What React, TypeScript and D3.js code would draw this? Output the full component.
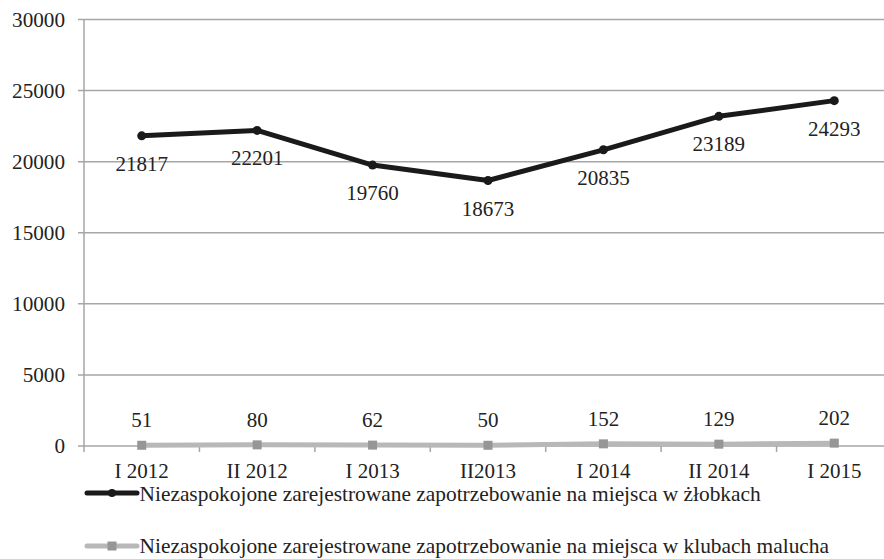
import React from "react";
import * as d3 from "d3";

const categories = ["I 2012", "II 2012", "I 2013", "II2013", "I 2014", "II 2014", "I 2015"];
const zlobkiValues = [21817, 22201, 19760, 18673, 20835, 23189, 24293];
const klubyValues = [51, 80, 62, 50, 152, 129, 202];
const yTicks = [0, 5000, 10000, 15000, 20000, 25000, 30000];
const seriesNames = [
  "Niezaspokojone zarejestrowane zapotrzebowanie na miejsca w żłobkach",
  "Niezaspokojone zarejestrowane zapotrzebowanie na miejsca w klubach malucha",
];

const W = 884;
const H = 559;
const left = 84;
const right = 892;
const top = 19.5;
const bottom = 446;
const FONT = "Liberation Serif, serif";
const GRID = "#a6a6a6";
const BLACK = "#1a1a1a";
const GRAY_LINE = "#b8b8b8";
const GRAY_MARK = "#969696";
const TEXT = "#222";

export default function App() {
  const x = d3.scaleBand<string>().domain(categories).range([left, right]);
  const y = d3.scaleLinear().domain([0, 30000]).range([bottom, top]);
  const cx = (c: string) => (x(c) as number) + x.bandwidth() / 2;
  const line = d3
    .line<number>()
    .x((_, i) => cx(categories[i]))
    .y((d) => y(d));
  const boundaries = d3.range(categories.length + 1).map((i) => left + i * x.bandwidth());
  const ts = { fontFamily: FONT };

  return (
    <svg
      width={W}
      height={H}
      style={{ position: "absolute", left: 0, top: 0, background: "#fff", fontFamily: FONT }}
    >
      {/* gridlines */}
      {yTicks.map((t) => (
        <g key={t}>
          <line x1={left - 6} x2={right} y1={y(t)} y2={y(t)} stroke={GRID} strokeWidth={1.5} />
          <text style={ts} x={65} y={y(t) + 7} textAnchor="end" fontSize={21.2} fill={TEXT}>
            {t}
          </text>
        </g>
      ))}
      {/* y axis */}
      <line x1={left} x2={left} y1={top} y2={bottom} stroke={GRID} strokeWidth={1.5} />
      {/* x ticks */}
      {boundaries.map((b, i) => (
        <line key={i} x1={b} x2={b} y1={bottom} y2={bottom + 6} stroke={GRID} strokeWidth={1.5} />
      ))}
      {categories.map((c) => (
        <text style={ts} key={c} x={cx(c)} y={478} textAnchor="middle" fontSize={21} fill={TEXT}>
          {c}
        </text>
      ))}
      {/* gray series */}
      <path d={line(klubyValues) || ""} fill="none" stroke={GRAY_LINE} strokeWidth={5} />
      {klubyValues.map((v, i) => (
        <rect
          key={i}
          x={cx(categories[i]) - 4.5}
          y={y(v) - 4.5}
          width={9}
          height={9}
          fill={GRAY_MARK}
        />
      ))}
      {klubyValues.map((v, i) => (
        <text style={ts} key={i} x={cx(categories[i])} y={y(v) - 18} textAnchor="middle" fontSize={21} fill={TEXT}>
          {v}
        </text>
      ))}
      {/* black series */}
      <path d={line(zlobkiValues) || ""} fill="none" stroke={BLACK} strokeWidth={5} strokeLinejoin="round" />
      {zlobkiValues.map((v, i) => (
        <circle key={i} cx={cx(categories[i])} cy={y(v)} r={4.5} fill={BLACK} />
      ))}
      {zlobkiValues.map((v, i) => (
        <text style={ts} key={i} x={cx(categories[i])} y={y(v) + 35} textAnchor="middle" fontSize={21} fill={TEXT}>
          {v}
        </text>
      ))}
      {/* legend */}
      <line x1={87} x2={137} y1={493} y2={493} stroke={BLACK} strokeWidth={5} strokeLinecap="round" />
      <circle cx={112} cy={493} r={4} fill={BLACK} />
      <text style={ts} x={139.5} y={501} fontSize={21.4} fill={TEXT}>
        {seriesNames[0]}
      </text>
      <line x1={87} x2={137} y1={546} y2={546} stroke={GRAY_LINE} strokeWidth={5} strokeLinecap="round" />
      <rect x={107.5} y={541.5} width={9} height={9} fill={GRAY_MARK} />
      <text style={ts} x={139.5} y={553} fontSize={21.4} fill={TEXT}>
        {seriesNames[1]}
      </text>
    </svg>
  );
}
